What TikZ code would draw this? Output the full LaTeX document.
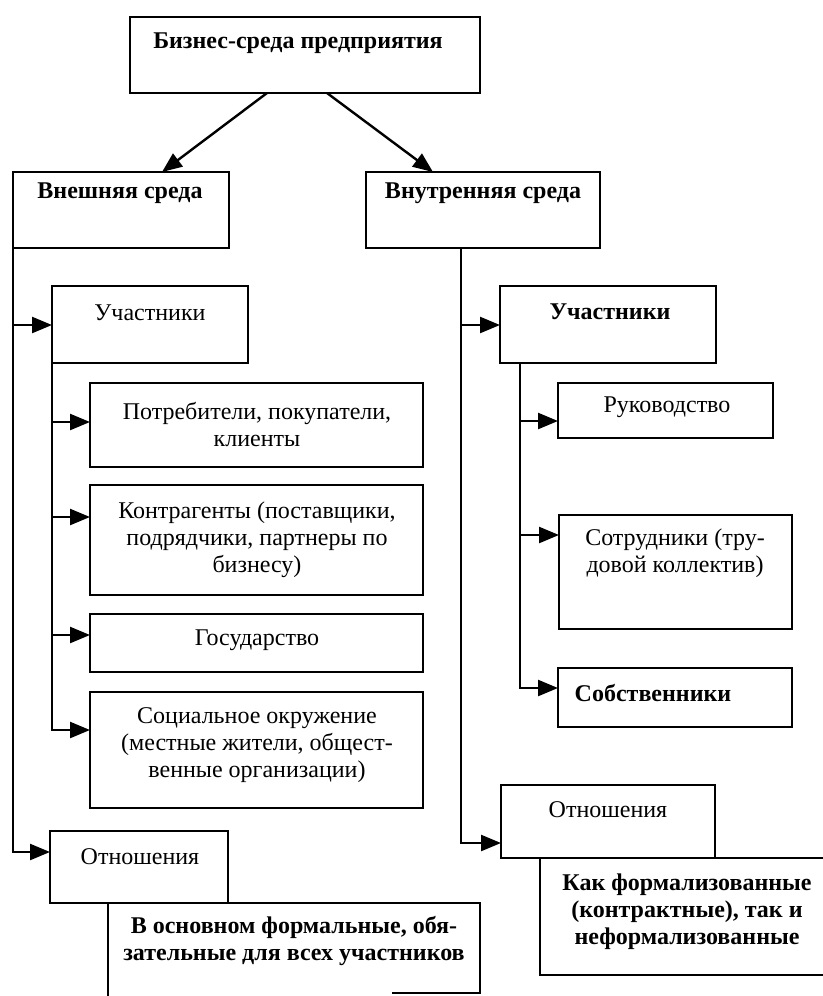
\documentclass[tikz,border=0pt]{standalone}
\usepackage{fontspec}
\setmainfont{Liberation Serif}
\usetikzlibrary{arrows.meta,calc}
% empty framed box given by its top-left and bottom-right corners (in px)
\newcommand\mkbox[6][box]{%
  \node[#1, minimum width={(#5-#3)*0.5pt}, minimum height={(#6-#4)*0.5pt}] (#2) at (#3,#4) {};}
\begin{document}
\begin{tikzpicture}[x=0.5pt,y=-0.5pt,
  box/.style={draw, line width=1.2pt, anchor=north west, inner sep=0pt, outer sep=0pt},
  openbox/.style={anchor=north west, inner sep=0pt, outer sep=0pt},
  tx/.style={font=\fontsize{12}{13.5}\selectfont, align=center, inner sep=0pt},
  btx/.style={font=\fontsize{12}{13.5}\selectfont\bfseries, align=center, inner sep=0pt},
  link/.style={line width=1.2pt},
  arr/.style={link, -{Triangle[length=10pt,width=8pt]}},
]
\useasboundingbox (0,0) rectangle (823,996);

% ---- boxes ----
\mkbox{T}{130}{17}{480}{93}
\mkbox{E}{13}{172}{229}{248}
\mkbox{I}{366}{172}{600}{248}

\mkbox{UL}{52}{286}{248}{363}
\mkbox{P}{90}{383}{423}{467}
\mkbox{K}{90}{485}{423}{595}
\mkbox{G}{90}{614}{423}{672}
\mkbox{S}{90}{692}{423}{808}
\mkbox{OL}{50}{831}{228}{903}
\mkbox[openbox]{V}{108}{903}{480}{996}

\mkbox{UR}{500}{286}{716}{363}
\mkbox{R}{558}{383}{773}{438}
\mkbox{C}{559}{515}{792}{629}
\mkbox{Sb}{558}{668}{792}{727}
\mkbox{OR}{501}{785}{715}{858}
\mkbox[openbox]{KF}{540}{858}{823}{975}

% boxes cut by the page edge
\draw[link] (V.south west) -- (V.north west) -- (V.north east) -- ($(V.north east)+(0,90)$)
  -- ($(V.north east)+(-88,90)$);
\draw[link] (KF.north east) -- (KF.north west) -- (KF.south west) -- (KF.south east);

% ---- texts ----
\node[btx] (T-t)  at (298,43)  {Бизнес-среда предприятия};
\node[btx] (E-t)  at (120,193) {Внешняя среда};
\node[btx] (I-t)  at (483,193) {Внутренняя среда};

\node[tx]  (UL-t) at (150,313) {Участники};
\node[tx]  (P-t)  at (257,425) {Потребители, покупатели,\\клиенты};
\node[tx]  (K-t)  at (257,540) {Контрагенты (поставщики,\\подрядчики, партнеры по\\бизнесу)};
\node[tx]  (G-t)  at (257,640) {Государство};
\node[tx]  (S-t)  at (257,745) {Социальное окружение\\(местные жители, общест-\\венные организации)};
\node[tx]  (OL-t) at (140,857) {Отношения};
\node[btx] (V-t)  at (294,941) {В основном формальные, обя-\\зательные для всех участников};

\node[btx] (UR-t) at (610,312) {Участники};
\node[tx]  (R-t)  at (667,407) {Руководство};
\node[tx]  (C-t)  at (675,553) {Сотрудники (тру-\\довой коллектив)};
\node[btx] (Sb-t) at (653,693) {Собственники};
\node[tx]  (OR-t) at (608,810) {Отношения};
\node[btx] (KF-t) at (687,912) {Как формализованные\\(контрактные), так и\\неформализованные};

% ---- connectors ----
\coordinate (tE) at ($(T.south west)+(137,0)$);
\coordinate (tI) at ($(T.south west)+(197,0)$);
\draw[arr] (tE) -- ($(E.north west)+(149,0)$);
\draw[arr] (tI) -- ($(I.north west)+(67,0)$);

% external environment
\coordinate (aUL) at ($(UL.north west)+(0,39)$);
\coordinate (aOL) at ($(OL.north west)+(0,21)$);
\draw[arr] (E.south west) |- (aOL);
\draw[arr] (E.south west |- aUL) -- (aUL);

\coordinate (aP) at ($(P.north west)+(0,39)$);
\coordinate (aK) at ($(K.north west)+(0,32)$);
\coordinate (aG) at ($(G.north west)+(0,21)$);
\coordinate (aS) at ($(S.north west)+(0,38)$);
\draw[arr] (UL.south west) |- (aS);
\draw[arr] (UL.south west |- aP) -- (aP);
\draw[arr] (UL.south west |- aK) -- (aK);
\draw[arr] (UL.south west |- aG) -- (aG);

% internal environment
\coordinate (iroot) at ($(I.south west)+(95,0)$);
\coordinate (aUR) at ($(UR.north west)+(0,39)$);
\coordinate (aOR) at ($(OR.north west)+(0,58)$);
\draw[arr] (iroot) |- (aOR);
\draw[arr] (iroot |- aUR) -- (aUR);

\coordinate (uroot) at ($(UR.south west)+(20,0)$);
\coordinate (aR)  at ($(R.north west)+(0,38)$);
\coordinate (aC)  at ($(C.north west)+(0,20)$);
\coordinate (aSb) at ($(Sb.north west)+(0,20)$);
\draw[arr] (uroot) |- (aSb);
\draw[arr] (uroot |- aR) -- (aR);
\draw[arr] (uroot |- aC) -- (aC);
\end{tikzpicture}
\end{document}
